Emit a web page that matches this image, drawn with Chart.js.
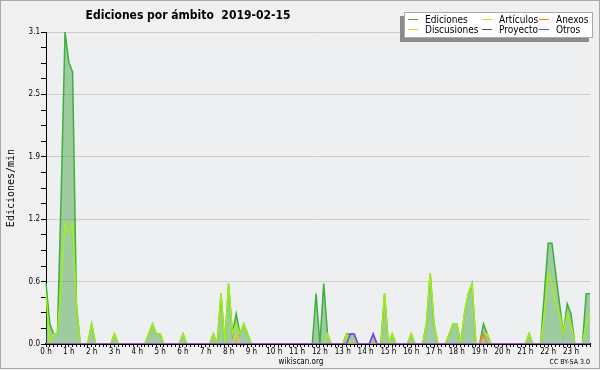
<!DOCTYPE html>
<html>
<head>
<meta charset="utf-8">
<script src="https://cdn.jsdelivr.net/npm/chart.js@4"></script>
<style>
  html, body { margin: 0; padding: 0; background: #f0f0f0; }
  canvas { display: block; }
</style>
</head>
<body>
<canvas id="chart" width="600" height="370"></canvas>
<script>
// 10-minute slots of the day
var slots = [];
for (var h = 0; h < 24; h++) {
  for (var m = 0; m < 60; m += 10) slots.push(h + ":" + (m < 10 ? "0" : "") + m);
}
var hourLabels = ["0 h", "1 h", "2 h", "3 h", "4 h", "5 h", "6 h", "7 h", "8 h", "9 h", "10 h", "11 h",
  "12 h", "13 h", "14 h", "15 h", "16 h", "17 h", "18 h", "19 h", "20 h", "21 h", "22 h", "23 h"];
var yMajor = [0, 0.62, 1.24, 1.86, 2.48, 3.1];
var yLabels = ["0.0", "0.6", "1.2", "1.9", "2.5", "3.1"];

// edits/min, one value per 10 minutes (12 values per row = 2 hours)
var ediciones = [
  0.6, 0.2, 0.1, 0.1, 1.5, 3.1, 2.8, 2.7, 0.4, 0, 0, 0,
  0.2, 0, 0, 0, 0, 0, 0.1, 0, 0, 0, 0, 0,
  0, 0, 0, 0.1, 0.2, 0.1, 0.1, 0, 0, 0, 0, 0,
  0.1, 0, 0, 0, 0, 0, 0, 0, 0.1, 0, 0.5, 0,
  0.6, 0.1, 0.3, 0.1, 0.2, 0.1, 0, 0, 0, 0, 0, 0,
  0, 0, 0, 0, 0, 0, 0, 0, 0, 0, 0, 0.5,
  0, 0.6, 0.1, 0, 0, 0, 0, 0.1, 0.1, 0.1, 0, 0,
  0, 0, 0.1, 0, 0, 0.5, 0, 0.1, 0, 0, 0, 0,
  0.1, 0, 0, 0, 0.2, 0.7, 0.2, 0, 0, 0, 0.1, 0.2,
  0.2, 0, 0.3, 0.5, 0.6, 0, 0, 0.2, 0.1, 0, 0, 0,
  0, 0, 0, 0, 0, 0, 0, 0.1, 0, 0, 0, 0.5,
  1.0, 1.0, 0.7, 0.4, 0.1, 0.4, 0.3, 0, 0, 0, 0.5, 0.5
];
var articulos = [
  0.5, 0, 0.1, 0.1, 0.6, 1.2, 1.1, 1.2, 0.4, 0, 0, 0,
  0.2, 0, 0, 0, 0, 0, 0.1, 0, 0, 0, 0, 0,
  0, 0, 0, 0.1, 0.2, 0.1, 0.1, 0, 0, 0, 0, 0,
  0.1, 0, 0, 0, 0, 0, 0, 0, 0.1, 0, 0.5, 0,
  0.6, 0.1, 0.2, 0.1, 0.2, 0.1, 0, 0, 0, 0, 0, 0,
  0, 0, 0, 0, 0, 0, 0, 0, 0, 0, 0, 0,
  0, 0, 0.1, 0, 0, 0, 0, 0.1, 0, 0, 0, 0,
  0, 0, 0, 0, 0, 0.5, 0, 0.1, 0, 0, 0, 0,
  0.1, 0, 0, 0, 0.2, 0.7, 0.2, 0, 0, 0, 0.1, 0.2,
  0.2, 0, 0.3, 0.5, 0.6, 0, 0, 0.1, 0.1, 0, 0, 0,
  0, 0, 0, 0, 0, 0, 0, 0.1, 0, 0, 0, 0.3,
  0.7, 0.6, 0.4, 0.3, 0.1, 0.3, 0.2, 0, 0, 0, 0.2, 0.3
];
var anexos = [
  0, 0, 0, 0, 0, 0, 0, 0, 0, 0, 0, 0,
  0, 0, 0, 0, 0, 0, 0, 0, 0, 0, 0, 0,
  0, 0, 0, 0, 0, 0, 0, 0, 0, 0, 0, 0,
  0, 0, 0, 0, 0, 0, 0, 0, 0, 0, 0, 0,
  0, 0, 0, 0, 0, 0, 0, 0, 0, 0, 0, 0,
  0, 0, 0, 0, 0, 0, 0, 0, 0, 0, 0, 0,
  0, 0, 0, 0, 0, 0, 0, 0, 0, 0, 0, 0,
  0, 0, 0, 0, 0, 0, 0, 0, 0, 0, 0, 0,
  0, 0, 0, 0, 0, 0, 0, 0, 0, 0, 0, 0,
  0, 0, 0, 0, 0, 0, 0, 0.1, 0, 0, 0, 0,
  0, 0, 0, 0, 0, 0, 0, 0, 0, 0, 0, 0,
  0, 0, 0, 0, 0, 0, 0, 0, 0, 0, 0, 0
];
var discusiones = [
  0, 0, 0, 0, 0, 0, 0, 0, 0, 0, 0, 0,
  0, 0, 0, 0, 0, 0, 0, 0, 0, 0, 0, 0,
  0, 0, 0, 0, 0, 0, 0, 0, 0, 0, 0, 0,
  0, 0, 0, 0, 0, 0, 0, 0, 0, 0, 0, 0,
  0, 0, 0.1, 0, 0, 0, 0, 0, 0, 0, 0, 0,
  0, 0, 0, 0, 0, 0, 0, 0, 0, 0, 0, 0,
  0, 0, 0, 0, 0, 0, 0, 0, 0, 0, 0, 0,
  0, 0, 0, 0, 0, 0, 0, 0, 0, 0, 0, 0,
  0, 0, 0, 0, 0, 0, 0, 0, 0, 0, 0, 0,
  0, 0, 0, 0, 0, 0, 0, 0, 0, 0, 0, 0,
  0, 0, 0, 0, 0, 0, 0, 0, 0, 0, 0, 0,
  0, 0, 0, 0, 0, 0, 0, 0, 0, 0, 0, 0
];
var proyecto = [
  0, 0, 0, 0, 0, 0, 0, 0, 0, 0, 0, 0,
  0, 0, 0, 0, 0, 0, 0, 0, 0, 0, 0, 0,
  0, 0, 0, 0, 0, 0, 0, 0, 0, 0, 0, 0,
  0, 0, 0, 0, 0, 0, 0, 0, 0, 0, 0, 0,
  0, 0, 0, 0, 0, 0, 0, 0, 0, 0, 0, 0,
  0, 0, 0, 0, 0, 0, 0, 0, 0, 0, 0, 0,
  0, 0, 0, 0, 0, 0, 0, 0, 0, 0, 0, 0,
  0, 0, 0, 0, 0, 0, 0, 0, 0, 0, 0, 0,
  0, 0, 0, 0, 0, 0, 0, 0, 0, 0, 0, 0,
  0, 0, 0, 0, 0, 0, 0, 0, 0, 0, 0, 0,
  0, 0, 0, 0, 0, 0, 0, 0, 0, 0, 0, 0,
  0, 0, 0, 0, 0, 0, 0, 0, 0, 0, 0, 0
];
var otros = [
  0, 0, 0, 0, 0, 0, 0, 0, 0, 0, 0, 0,
  0, 0, 0, 0, 0, 0, 0, 0, 0, 0, 0, 0,
  0, 0, 0, 0, 0, 0, 0, 0, 0, 0, 0, 0,
  0, 0, 0, 0, 0, 0, 0, 0, 0, 0, 0, 0,
  0, 0, 0, 0, 0, 0, 0, 0, 0, 0, 0, 0,
  0, 0, 0, 0, 0, 0, 0, 0, 0, 0, 0, 0,
  0, 0, 0, 0, 0, 0, 0, 0, 0.1, 0.1, 0, 0,
  0, 0, 0.1, 0, 0, 0, 0, 0, 0, 0, 0, 0,
  0, 0, 0, 0, 0, 0, 0, 0, 0, 0, 0, 0,
  0, 0, 0, 0, 0, 0, 0, 0, 0, 0, 0, 0,
  0, 0, 0, 0, 0, 0, 0, 0, 0, 0, 0, 0,
  0, 0, 0, 0, 0, 0, 0, 0, 0, 0, 0, 0
];

var FONT = '"DejaVu Sans Condensed", "DejaVu Sans", sans-serif';
Chart.defaults.font.family = FONT;
Chart.defaults.color = "#000";

// background, title, legend box and footer texts
var decor = {
  id: "decor",
  beforeDraw: function (chart) {
    var c = chart.ctx, a = chart.chartArea;
    c.save();
    c.fillStyle = "#f0f0f0";
    c.fillRect(0, 0, chart.width, chart.height);
    c.fillStyle = "#eeeff1";
    c.fillRect(a.left, a.top, a.right - a.left, a.bottom - a.top);
    c.restore();
  },
  afterDraw: function (chart) {
    var c = chart.ctx;
    c.save();
    // frame
    c.strokeStyle = "#a8a8a8";
    c.lineWidth = 1;
    c.strokeRect(0.5, 0.5, chart.width - 1, chart.height - 2);

    // title
    c.fillStyle = "#000";
    c.font = "bold 12px " + FONT;
    c.textAlign = "center";
    c.textBaseline = "middle";
    c.fillText("Ediciones por ámbito  2019-02-15", 188, 16);

    // y title
    c.save();
    c.translate(11, 188);
    c.rotate(-Math.PI / 2);
    c.font = '10px "DejaVu Sans Mono", monospace';
    c.fillText("Ediciones/min", 0, 0);
    c.restore();

    // footer
    c.font = "8px " + FONT;
    c.fillText("wikiscan.org", 301, 362);
    c.font = "7px " + FONT;
    c.textAlign = "right";
    c.fillText("CC BY-SA 3.0", 590, 362);

    // legend box with shadow
    c.fillStyle = "#8c8c8c";
    c.fillRect(400, 16, 189, 26);
    c.fillStyle = "#fff";
    c.fillRect(404, 12, 189, 26);
    c.strokeStyle = "#aaa";
    c.strokeRect(404.5, 12.5, 188, 25);
    var colX = [408, 482, 539];
    var rowY = [19.5, 29.5];
    c.font = "10px " + FONT;
    c.textAlign = "left";
    chart.data.datasets.forEach(function (ds, i) {
      var x = colX[i % 3], y = rowY[Math.floor(i / 3)];
      c.strokeStyle = ds.borderColor;
      c.lineWidth = 1;
      c.beginPath();
      c.moveTo(x, y);
      c.lineTo(x + 10, y);
      c.stroke();
      c.fillStyle = "#000";
      c.fillText(ds.label, x + 17, y + 0.5);
    });
    c.restore();
  }
};

function series(label, data, color, order, fill) {
  return {
    label: label,
    data: data,
    borderColor: color,
    backgroundColor: fill || "rgba(0,0,0,0)",
    fill: fill ? "origin" : false,
    borderWidth: 1.5,
    pointRadius: 0,
    tension: 0,
    order: order
  };
}

var chart = new Chart(document.getElementById("chart").getContext("2d"), {
  type: "line",
  data: {
    labels: slots,
    datasets: [
      series("Ediciones", ediciones, "#3cb03c", 10, "rgba(60,160,60,0.45)"),
      series("Artículos", articulos, "#a6ee1a", 5),
      series("Anexos", anexos, "#ff7a2a", 2),
      series("Discusiones", discusiones, "#f5c628", 3),
      series("Proyecto", proyecto, "#555555", 4),
      series("Otros", otros, "#8040ff", 1)
    ]
  },
  options: {
    responsive: false,
    animation: false,
    devicePixelRatio: 1,
    layout: { padding: { left: 0, right: 10, top: 32, bottom: 0 } },
    plugins: { legend: { display: false }, title: { display: false }, tooltip: { enabled: false } },
    scales: {
      x: {
        z: 1,
        offset: false,
        grid: { drawOnChartArea: false, tickLength: 3, color: "#000", tickColor: "#000" },
        border: { color: "#000", width: 2 },
        ticks: {
          autoSkip: false,
          maxRotation: 0,
          padding: 0,
          font: { size: 8 },
          callback: function (v, i) { return i % 6 === 0 ? hourLabels[i / 6] : ""; }
        },
        afterFit: function (s) { s.height = 26; }
      },
      y: {
        min: 0,
        max: 3.1,
        afterBuildTicks: function (s) {
          var t = [];
          for (var k = 0; k < yMajor.length; k++) {
            t.push({ value: yMajor[k] });
            if (k < yMajor.length - 1) {
              var d = (yMajor[k + 1] - yMajor[k]) / 4;
              for (var j = 1; j < 4; j++) t.push({ value: yMajor[k] + j * d });
            }
          }
          s.ticks = t;
        },
        grid: {
          color: function (ctx) { return ctx.index % 4 === 0 ? "#cccccc" : "rgba(0,0,0,0)"; },
          tickColor: "#000",
          tickLength: 5
        },
        border: { color: "#000", width: 1 },
        ticks: {
          padding: 1,
          font: { size: 8 },
          callback: function (v, i) { return i % 4 === 0 ? yLabels[i / 4] : ""; }
        },
        afterFit: function (s) { s.width = 46; }
      }
    }
  },
  plugins: [decor]
});
</script>
</body>
</html>
